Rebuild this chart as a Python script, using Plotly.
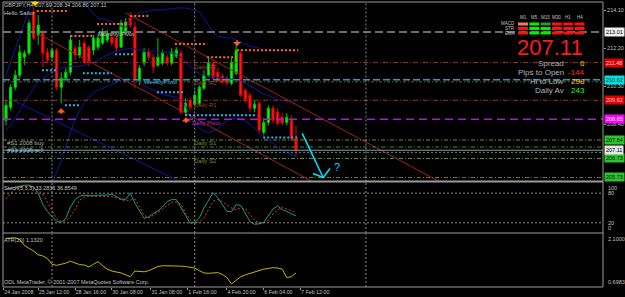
import plotly.graph_objects as go

# ---------------- data ----------------
bars = list(range(64))
opens = [208.60, 209.25, 210.25, 210.85, 211.75, 211.95, 214.00, 212.85, 212.95, 212.00,
         211.75, 212.10, 210.25, 210.70, 211.00, 212.20, 211.85, 212.45, 212.25, 212.10,
         212.25, 212.45, 212.60, 212.75, 212.70, 212.25, 213.00, 213.70, 213.25, 210.60,
         211.45, 212.00, 211.75, 211.35, 211.45, 211.75, 211.45, 211.80, 211.95, 209.00,
         209.60, 209.40, 209.45, 210.20, 210.85, 211.45, 211.00, 210.80, 210.70, 210.45,
         210.95, 211.95, 210.10, 209.85, 209.20, 209.45, 208.00, 208.50, 209.20, 209.00,
         208.75, 208.50, 208.60, 207.69]
highs = [209.60, 210.40, 211.10, 212.35, 212.10, 213.60, 214.25, 213.85, 213.10, 212.20,
         212.20, 212.20, 211.00, 211.20, 212.85, 212.35, 212.60, 212.60, 212.35, 212.85,
         212.90, 213.20, 213.10, 212.90, 212.80, 213.60, 213.70, 214.00, 213.50, 211.35,
         212.20, 212.20, 211.90, 212.70, 212.10, 211.90, 212.20, 212.25, 212.10, 209.70,
         209.75, 210.10, 210.35, 211.10, 211.70, 211.60, 211.20, 210.95, 210.85, 211.70,
         212.35, 212.10, 210.20, 210.00, 209.60, 209.60, 208.70, 209.35, 209.35, 209.20,
         208.95, 208.95, 208.85, 208.34]
lows = [208.35, 209.10, 210.10, 210.70, 211.35, 211.85, 212.60, 212.35, 211.25, 211.50,
        211.60, 210.10, 209.45, 210.60, 210.85, 211.60, 211.70, 211.40, 211.30, 211.85,
        212.10, 212.35, 212.50, 212.30, 212.00, 212.20, 212.90, 213.20, 210.20, 210.35,
        211.30, 211.60, 210.95, 211.25, 211.35, 211.30, 211.35, 211.70, 208.90, 208.85,
        209.10, 209.30, 209.35, 210.10, 210.75, 210.60, 210.50, 210.40, 210.35, 210.35,
        210.85, 209.75, 209.45, 209.00, 209.00, 207.95, 207.85, 208.35, 208.45, 208.35,
        208.35, 208.35, 207.60, 206.80]
closes = [209.35, 210.25, 210.85, 212.00, 211.95, 213.45, 212.70, 213.35, 211.95, 211.60,
          212.10, 210.25, 210.70, 211.00, 212.60, 211.85, 212.25, 211.50, 211.50, 212.70,
          212.70, 213.00, 212.90, 212.45, 212.20, 213.45, 213.50, 213.35, 210.60, 211.20,
          212.00, 211.75, 211.25, 211.75, 211.95, 211.45, 212.00, 212.10, 209.00, 209.45,
          209.25, 209.85, 210.25, 210.85, 211.45, 210.70, 210.60, 210.50, 210.45, 211.50,
          212.10, 209.85, 209.60, 209.20, 209.40, 208.10, 208.50, 209.20, 208.60, 208.45,
          208.45, 208.75, 207.70, 207.11]

bb_upper = [210.85, 211.50, 212.10, 212.85, 213.50, 214.10, 214.50, 214.85, 215.00, 215.10,
            215.10, 215.00, 214.90, 214.85, 214.80, 214.75, 214.65, 214.50, 214.20, 213.90,
            213.70, 213.65, 213.60, 213.50, 213.40, 213.30, 213.25, 213.50, 213.80, 214.00,
            214.00, 214.05, 214.10, 214.10, 214.10, 214.15, 214.15, 214.20, 214.20, 214.20,
            214.15, 214.10, 214.00, 213.70, 213.35, 213.00, 212.80, 212.75, 212.70, 212.70,
            212.60, 212.50, 212.40, 212.30, 212.25, 212.20, 212.10, 212.10, 212.10, 212.10,
            212.10, 212.10, 212.10, 212.10]
bb_middle = [208.10, 208.35, 208.70, 209.10, 209.50, 209.85, 210.20, 210.50, 210.70, 210.85,
             211.00, 211.10, 211.20, 211.25, 211.30, 211.30, 211.30, 211.35, 211.40, 211.50,
             211.60, 211.75, 211.85, 211.95, 212.05, 212.10, 212.15, 212.20, 212.15, 212.10,
             212.05, 212.05, 212.05, 212.00, 212.00, 212.00, 211.95, 211.90, 211.75, 211.50,
             211.25, 211.05, 210.95, 210.85, 210.80, 210.75, 210.75, 210.70, 210.65, 210.65,
             210.65, 210.60, 210.45, 210.30, 210.20, 210.05, 209.90, 209.85, 209.75, 209.65,
             209.60, 209.55, 209.50, 209.45]
bb_lower = [204.85, 204.60, 204.35, 204.10, 204.00, 204.10, 204.35, 204.60, 204.85, 205.10,
            205.50, 206.00, 206.60, 207.35, 208.00, 208.60, 209.10, 209.45, 209.75, 210.00,
            210.10, 210.20, 210.30, 210.40, 210.50, 210.60, 210.65, 210.65, 210.60, 210.50,
            210.35, 210.20, 210.10, 210.00, 209.90, 209.85, 209.80, 209.75, 209.60, 209.30,
            208.85, 208.50, 208.20, 208.05, 208.00, 208.05, 208.20, 208.40, 208.60, 208.65,
            208.70, 208.70, 208.55, 208.40, 208.20, 207.95, 207.70, 207.60, 207.45, 207.25,
            207.10, 207.00, 206.90, 206.80]

stoch_main = [88, 90, 92, 94.5, 96, 96.5, 92, 80, 57, 43, 33, 23, 21, 29, 52, 67, 74, 76, 75, 74.5,
              76, 76, 76, 78, 73, 68, 67, 80, 60, 44, 29, 32, 39, 44, 52, 63, 67, 67, 50, 33,
              19, 21, 30, 50, 67, 81, 71, 56, 43, 42.5, 57, 55, 38, 23, 17, 18, 21, 35, 48, 54,
              47, 43, 38, 34]
stoch_signal = [68, 80, 87, 92, 93, 93, 93, 86, 78, 62, 45, 28, 23, 24, 33, 48, 66, 72, 74, 74,
                74, 74, 74, 73, 70, 67, 64, 66, 68, 52, 35, 30, 35, 42, 47, 55, 62, 62, 58, 40,
                26, 20, 22, 30, 48, 64, 67, 63, 56, 50, 46, 50, 48, 36, 25, 20, 20, 25, 38, 46,
                52, 48, 44, 41]
stoch_readout = [33.2836, 36.8549]
atr = [1.985, 2.00, 2.00, 1.95, 1.80, 1.72, 1.65, 1.55, 1.52, 1.45, 1.30, 1.27, 1.30, 1.33, 1.38,
       1.33, 1.29, 1.28, 1.23, 1.30, 1.37, 1.26, 1.17, 1.12, 1.10, 1.07, 1.02, 0.97, 1.12, 1.12,
       1.10, 1.13, 1.19, 1.24, 1.26, 1.26, 1.26, 1.26, 1.25, 1.24, 1.22, 1.20, 1.13, 1.07, 1.06,
       1.06, 1.08, 1.03, 0.95, 0.78, 0.88, 0.97, 1.02, 1.06, 1.11, 1.14, 1.17, 1.19, 1.21, 1.20,
       1.17, 0.95, 0.97, 1.07]
atr_readout = 1.1320
atr_scale = [2.1000, 0.6983]
stoch_scale = [100, 80, 20, 0]

# horizontal levels
level_prices = [213.00, 211.48, 210.62, 210.52, 209.60, 208.65, 207.62, 207.27, 207.00, 206.70, 205.75]
level_colors = ["#6e6e6e", "#a0321e", "#1ea0b8", "#8b4a2a", "#a0321e", "#a020c8",
                "#7a8a2a", "#3c8c3c", "#2a9d8f", "#6e8b3d", "#7a7030"]
level_dash = ["8px,4px", "5px,2px,1px,2px", "7px,3px", "3px,2px,1px,2px", "5px,2px,1px,2px",
              "8px,5px", "4px,2px,1px,2px", "4px,2px,1px,2px", "2px,2px", "4px,2px,1px,2px",
              "4px,2px,1px,2px"]
level_width = [2, 1, 1.5, 1, 1, 1.5, 1, 1, 1, 1, 1]
box_labels = ["213.01", "211.48", "210.62", None, "209.62", "208.65", "207.64", None, None, "206.73", "205.73"]
box_colors = ["#eeeeee", "#e00000", "#00e0e0", None, "#e00000", "#ff00ff", "#30c030", None, None, "#30c030", "#30c030"]
box_text = ["#000000", "#ffd0d0", "#003030", None, "#ffd0d0", "#ffffff", "#002000", None, None, "#002000", "#002000"]
last_price = 207.11

orange_seg = [(6.7, 13.3, 214.05), (14.0, 19.0, 212.80), (19.8, 26.3, 213.40), (27.0, 31.0, 213.80),
              (36.7, 43.7, 212.40), (43.7, 50.2, 211.75), (50.2, 63.5, 212.10)]
cyan_seg = [(7.8, 11.3, 211.10), (12.8, 16.1, 209.35), (16.7, 23.0, 210.95), (23.7, 27.6, 211.90),
            (32.8, 38.5, 210.00), (38.9, 54.6, 208.85), (55.9, 63.5, 207.75), (0.5, 7.0, 207.10)]

channel = [((25.9, 213.96), (93.7, 205.60)), ((6.7, 212.95), (66.5, 205.55))]
blue_trend = [((1.5, 209.60), (37.8, 205.55))]

separators = [10, 41, 78.2]

time_ticks = [-0.5, 7, 15, 23, 31.5, 39.5, 48, 56, 64]
time_labels = ["24 Jan 2008", "25 Jan 12:00", "28 Jan 16:00", "30 Jan 08:00", "31 Jan 08:00",
               "1 Feb 16:00", "4 Feb 20:00", "6 Feb 04:00", "7 Feb 12:00"]
price_ticks = [214.10, 212.20, 210.30, 208.40]

chart_labels = [
    (19.5, 212.90, "Monthly Pivot", "#c8c8c8"),
    (29.6, 210.52, "WeeklyPivot", "#40b8e0"),
    (40.5, 211.25, "Daily R3", "#a0402a"),
    (40.5, 210.45, "Daily R2", "#a0402a"),
    (40.5, 209.35, "Daily R1", "#a0402a"),
    (40.0, 208.45, "Daily Pivot", "#b030d0"),
    (40.5, 207.45, "Daily S1", "#7a8a2a"),
    (40.5, 206.55, "Daily S2", "#7a8a2a"),
    (-0.3, 207.45, "#S1 2008 buy", "#b0b0b0"),
    (-0.3, 207.10, "#S1 2008 sell", "#b0b0b0"),
]
arrows = [(6.3, 214.30, "down", "#ffd800"), (50.2, 212.30, "down", "#ff5a20"),
          (12.0, 209.20, "up", "#ff5a20"), (39.1, 208.75, "up", "#ff5a20")]
cyan_arrow_x = [64.35, 68.9, 66.7, 68.9, 70.4]
cyan_arrow_y = [207.95, 205.75, 205.95, 205.75, 206.20]

tf_names = ["M1", "M5", "M15", "M30", "H1", "H4"]
row_names = ["MACD", "STR", "EMA"]
cell_colors = [["#f07a6a", "#00f000", "#3f8a3f", "#ff1010", "#ff1010", "#ff1010"],
               ["#ff1010", "#00f000", "#00f000", "#ff1010", "#ff1010", "#ff1010"],
               ["#ff1010", "#00f000", "#00f000", "#ff1010", "#ff1010", "#ff1010"]]
stat_names = ["Spread", "Pips to Open", "Hi to Low", "Daily Av"]
stat_values = ["6", "-144", "298", "243"]
stat_colors = ["#ffc800", "#ff3030", "#ffc830", "#20ff20"]

# ---------------- figure ----------------
W, H = 625, 297
def px(x): return x / W
def py(y): return 1 - y / H

FONT = "Liberation Sans"
GRAY = "#c0c0c0"
XD = [px(3), px(603)]
XR = [-0.652, 129.7]
fig = go.Figure()

def line(x, y, color, width=1, dash=None, xa="x", ya="y"):
    fig.add_trace(go.Scatter(x=x, y=y, mode="lines", line=dict(color=color, width=width, dash=dash),
                             xaxis=xa, yaxis=ya, showlegend=False, hoverinfo="skip"))

for band in (bb_upper, bb_middle, bb_lower):
    line(bars, band, "#1414a0")
for (a, b) in blue_trend:
    line([a[0], b[0]], [a[1], b[1]], "#1414a0")
for (a, b) in channel:
    line([a[0], b[0]], [a[1], b[1]], "#a02020")
for p, c, d, w in zip(level_prices, level_colors, level_dash, level_width):
    line(XR, [p, p], c, w, d)
line(XR, [last_price, last_price], "#9a9a9a")
for s, e, p in orange_seg:
    line([s, e], [p, p], "#ff6428", 2, "2px,2px")
for s, e, p in cyan_seg:
    line([s, e], [p, p], "#28b4f0", 2, "2px,2px")
line(cyan_arrow_x[:2], cyan_arrow_y[:2], "#00e0ff", 1.5)
line(cyan_arrow_x[2:], cyan_arrow_y[2:], "#00e0ff", 1.5)

fig.add_trace(go.Candlestick(
    x=bars, open=opens, high=highs, low=lows, close=closes,
    increasing=dict(line=dict(color="#00c800", width=1), fillcolor="#00ff00"),
    decreasing=dict(line=dict(color="#e00000", width=1), fillcolor="#ff1a1a"),
    xaxis="x", yaxis="y", hoverinfo="skip", showlegend=False))

# stochastic
line(bars, stoch_signal, "#e03c20", 1, "2px,2px", "x2", "y2")
line(bars, stoch_main, "#1e9c78", 1, None, "x2", "y2")
for lv in (80, 20):
    line(XR, [lv, lv], "#8a8a8a", 1, "2px,2px", "x2", "y2")
# ATR
line(bars, atr, "#c8b400", 1, None, "x3", "y3")

shapes = []
for s in separators:
    for xa, ya in (("x", "y"), ("x2", "y2"), ("x3", "y3")):
        shapes.append(dict(type="line", xref=xa, yref=ya + " domain", x0=s, x1=s, y0=0, y1=1,
                           line=dict(color="#8a8a8a", width=1, dash="2px,2px")))
BC = "#9a9a9a"
for y in (2, 181.5, 233, 287):
    shapes.append(dict(type="line", xref="paper", yref="paper", x0=px(3), x1=px(603), y0=py(y), y1=py(y),
                       line=dict(color=BC, width=2 if y == 181.5 else 1)))
for x in (3, 603):
    shapes.append(dict(type="line", xref="paper", yref="paper", x0=px(x), x1=px(x), y0=py(287), y1=py(2),
                       line=dict(color=BC, width=1)))

cx0, cw, cg = 518, 10, 1.3
row_y = [22.5, 27.0, 31.5]
for r, row in enumerate(cell_colors):
    for k, col in enumerate(row):
        x0 = cx0 + k * (cw + cg)
        shapes.append(dict(type="rect", xref="paper", yref="paper", x0=px(x0), x1=px(x0 + cw),
                           y0=py(row_y[r] + 3), y1=py(row_y[r]), fillcolor=col, line=dict(width=0)))

ann = []
def txt(x, y, t, color=GRAY, size=5.5, xanchor="left", yanchor="middle"):
    ann.append(dict(xref="paper", yref="paper", x=px(x), y=py(y), text=t, showarrow=False,
                    font=dict(family=FONT, size=size, color=color), xanchor=xanchor, yanchor=yanchor,
                    borderpad=0))

txt(3, 5, "GBPJPY,H4 " + " ".join(f"{v:.2f}" for v in (opens[-1], highs[-1], lows[-1], closes[-1])))
txt(3, 13, "Hello Sailor", size=6)
txt(3, 188, f"Stoch(5,3,3) {stoch_readout[0]:.4f} {stoch_readout[1]:.4f}")
txt(3, 240, f"ATR(20) {atr_readout:.4f}")
txt(3, 282, "ODL MetaTrader, © 2001-2007 MetaQuotes Software Corp.")

for k, n in enumerate(tf_names):
    txt(cx0 + k * (cw + cg) + cw / 2, 18, n, size=4.5, xanchor="center")
for r, n in enumerate(row_names):
    txt(516, row_y[r] + 1.5, n, size=4.5, xanchor="right")
txt(550, 47, f"{closes[-1]:.2f}", color="#ff1a1a", size=22, xanchor="center")
for k, (n, v, c) in enumerate(zip(stat_names, stat_values, stat_colors)):
    yy = 63.7 + k * 8.8
    txt(565, yy, n, color="#b4b4b4", size=8, xanchor="right")
    txt(586, yy, v, color=c, size=8, xanchor="right")

for p, lab, bc, tc in zip(level_prices, box_labels, box_colors, box_text):
    if lab is None:
        continue
    ann.append(dict(xref="paper", yref="y", x=px(604), y=p, text=lab, showarrow=False, xanchor="left",
                    yanchor="middle", bgcolor=bc, borderpad=1,
                    font=dict(family=FONT, size=5.5, color=tc)))
ann.append(dict(xref="paper", yref="y", x=px(604), y=last_price, text=f"{last_price:.2f}", showarrow=False,
                xanchor="left", yanchor="middle", bgcolor="#e6e6e6", borderpad=1,
                font=dict(family=FONT, size=5.5, color="#000000")))

for v, ya in zip(stoch_scale, ("top", "middle", "middle", "bottom")):
    ann.append(dict(xref="paper", yref="y2", x=px(606), y=v, text=str(v), showarrow=False, xanchor="left",
                    yanchor=ya, font=dict(family=FONT, size=5.5, color=GRAY)))
for v, ya in zip(atr_scale, ("top", "bottom")):
    ann.append(dict(xref="paper", yref="y3", x=px(606), y=v, text=f"{v:.4f}", showarrow=False, xanchor="left",
                    yanchor=ya, font=dict(family=FONT, size=5.5, color=GRAY)))

for b, p, t, c in chart_labels:
    ann.append(dict(xref="x", yref="y", x=b, y=p, text=t, showarrow=False, xanchor="left", yanchor="middle",
                    font=dict(family=FONT, size=6, color=c)))
for b, p, d, c in arrows:
    ann.append(dict(xref="x", yref="y", x=b, y=p, text="", showarrow=True, arrowhead=1, arrowsize=0.7,
                    arrowwidth=2, arrowcolor=c, ax=0, ay=-7 if d == "down" else 7))
ann.append(dict(xref="x", yref="y", x=72.0, y=206.25, text="?", showarrow=False,
                font=dict(family=FONT, size=11, color="#00d8ff")))

fig.update_layout(
    width=W, height=H, margin=dict(l=0, r=0, t=0, b=0),
    paper_bgcolor="#000000", plot_bgcolor="#000000", showlegend=False,
    font=dict(family=FONT, color=GRAY, size=6),
    xaxis=dict(domain=XD, range=XR, anchor="y", showticklabels=False, showgrid=False,
               zeroline=False, rangeslider=dict(visible=False)),
    xaxis2=dict(domain=XD, matches="x", anchor="y2", showticklabels=False, showgrid=False, zeroline=False),
    xaxis3=dict(domain=XD, matches="x", anchor="y3", showgrid=False, zeroline=False,
                tickvals=time_ticks, ticktext=time_labels, ticks="outside", ticklen=2, tickcolor=BC,
                tickangle=0, ticklabelposition="outside right",
                tickfont=dict(size=5.3, color=GRAY, family=FONT)),
    yaxis=dict(domain=[py(181.5), py(2)], range=[205.55, 214.50], side="right", anchor="x",
               tickvals=price_ticks, ticktext=[f"{v:.2f}" for v in price_ticks], ticks="outside", ticklen=2,
               tickcolor=BC, tickfont=dict(size=5.5, color=GRAY, family=FONT), showgrid=False, zeroline=False),
    yaxis2=dict(domain=[py(233), py(182)], range=[-0.6, 102.6], anchor="x2", showticklabels=False,
                showgrid=False, zeroline=False),
    yaxis3=dict(domain=[py(287), py(234)], range=[0.6983, 2.1], anchor="x3", showticklabels=False,
                showgrid=False, zeroline=False),
    shapes=shapes, annotations=ann,
)

fig.write_html("out.html")
